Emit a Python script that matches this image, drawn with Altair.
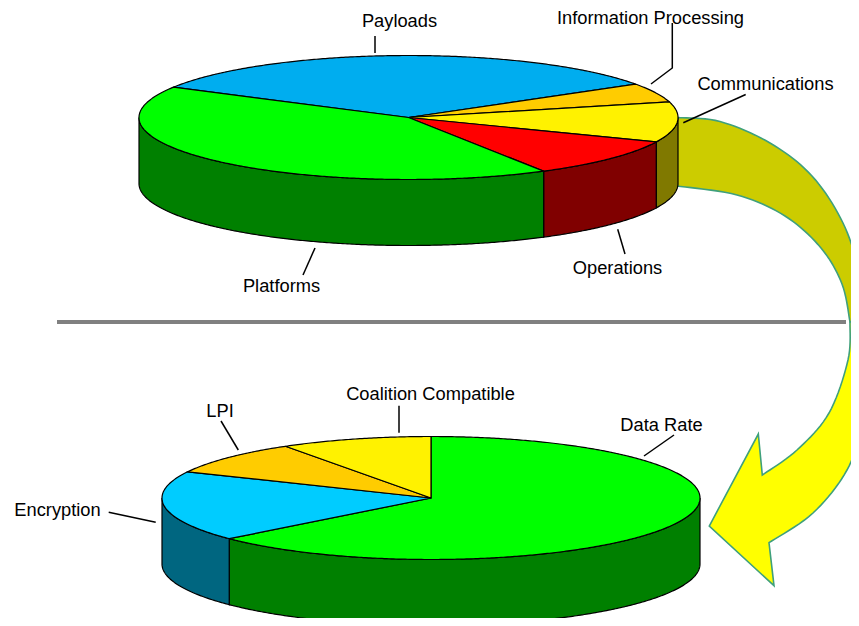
import numpy as np
import altair as alt

# ---- pie values (percent of each disc) ----
top_names = ["Payloads", "Information Processing", "Communications", "Operations", "Platforms"]
top_values = [32.8, 5.0, 10.5, 10.2, 41.5]
top_fill = ["#00ADEF", "#FFCC00", "#FFF200", "#FF0000", "#00FF00"]
top_side = ["#005678", "#806600", "#807900", "#800000", "#008000"]

bot_names = ["Data Rate", "Encryption", "LPI", "Coalition Compatible"]
bot_values = [63.5, 18.5, 8.9, 9.1]
bot_fill = ["#00FF00", "#00CCFF", "#FFCC00", "#FFF200"]
bot_side = ["#008000", "#006680", "#806600", "#807900"]

# ---- labels ----
label_text = ["Payloads", "Information Processing", "Communications", "Operations", "Platforms",
              "LPI", "Coalition Compatible", "Encryption", "Data Rate"]
label_x = [399.5, 650.5, 765.5, 617.5, 281.5, 220, 430.5, 57.5, 661.5]
label_y = [22, 18.5, 85, 269, 287, 412, 395, 511, 426]

leaders = [
    [(375, 36), (375, 53)],
    [(315, 248), (303, 275)],
    [(672.3, 23), (672.3, 68), (651, 84)],
    [(745.7, 94.5), (683.3, 122.7)],
    [(617.7, 229.3), (625, 254)],
    [(108.7, 512.3), (155.7, 522.3)],
    [(221, 421), (238.3, 450)],
    [(399, 405.7), (399, 432.7)],
    [(674, 435), (644, 456)],
]

# ---- swoosh outline ----
olive_outer = [(677, 117.5), (720, 121.5), (770, 143), (812, 176), (843, 223), (860, 275), (866, 322)]
olive_inner = [(850, 322), (842, 284), (821, 248), (785, 216), (737, 195), (677, 186)]
yellow_inner = [(850, 322), (848, 360), (829, 413), (797, 450), (762.3, 475)]
arrow_head = [(758.3, 434), (709.3, 526), (774, 585.7), (769, 542.7)]
yellow_outer = [(769, 542.7), (813, 513), (847, 470), (864, 420), (869, 370), (866, 322)]


def smooth(pts, n=10):
    p = np.array([pts[0]] + list(pts) + [pts[-1]], dtype=float)
    out = []
    for i in range(1, len(p) - 2):
        for u in np.linspace(0, 1, n, endpoint=False):
            out.append(0.5 * ((2 * p[i]) + (p[i + 1] - p[i - 1]) * u
                              + (2 * p[i - 1] - 5 * p[i] + 4 * p[i + 1] - p[i + 2]) * u ** 2
                              + (3 * p[i] - p[i - 1] - 3 * p[i + 1] + p[i + 2]) * u ** 3))
    out.append(p[-2])
    return [tuple(q) for q in out]


def feature(pts, fill, stroke, sw):
    ring = [[float(a) - 8, float(b) - 8] for a, b in pts]
    ring.append(ring[0])
    return {"type": "Feature", "geometry": {"type": "Polygon", "coordinates": [ring]},
            "properties": {"fill": fill, "stroke": stroke, "sw": sw}}


def disc(cx, cy, rx, ry, depth, start, values, fills, sides):
    pt = lambda t, d=0: (cx + rx * np.cos(np.radians(t)), cy + ry * np.sin(np.radians(t)) + d)
    arc = lambda a, b: np.linspace(a, b, max(2, int(abs(b - a) * 2)))
    wall, face = [], []
    t0 = start
    total = sum(values)
    for v, f, s in zip(values, fills, sides):
        t1 = t0 + 360 * v / total
        face.append(feature([(cx, cy)] + [pt(t) for t in arc(t0, t1)], f, "#000000", 1.2))
        lo, hi = max(t0, 0), min(t1, 180)
        if hi > lo:
            wall.append(feature([pt(t) for t in arc(lo, hi)] + [pt(t, depth) for t in arc(hi, lo)],
                                s, "#000000", 1.2))
        t0 = t1
    return wall + face


teal = "#3FA07C"
features = [
    feature(smooth(olive_outer) + smooth(olive_inner), "#CCCC00", teal, 1.6),
    feature(smooth(yellow_inner) + arrow_head + smooth(yellow_outer), "#FFFF00", teal, 1.6),
]
features += disc(408.5, 117.5, 269.5, 62, 66, -150.7, top_values, top_fill, top_side)
features += disc(431, 498, 269, 61.5, 66, -90, bot_values, bot_fill, bot_side)

shapes = alt.Chart(alt.InlineData(values=features)).mark_geoshape().encode(
    fill=alt.Fill("properties.fill:N", scale=None),
    stroke=alt.Stroke("properties.stroke:N", scale=None),
    strokeWidth=alt.StrokeWidth("properties.sw:Q", scale=None),
).project(type="identity", scale=1, translate=[0, 0])

X = lambda f: alt.X(f, scale=None, axis=None)
Y = lambda f: alt.Y(f, scale=None, axis=None)

divider = alt.Chart(alt.InlineData(values=[{"x": 49, "x2": 838, "y": 314}])).mark_rule(
    color="#808080", strokeWidth=4
).encode(x=X("x:Q"), x2="x2:Q", y=Y("y:Q"))

leader_rows = [{"k": i, "o": j, "x": a - 8, "y": b - 8}
               for i, seg in enumerate(leaders) for j, (a, b) in enumerate(seg)]
leader_lines = alt.Chart(alt.InlineData(values=leader_rows)).mark_line(
    color="#000000", strokeWidth=1.5
).encode(x=X("x:Q"), y=Y("y:Q"), detail="k:N", order="o:Q")

label_rows = [{"t": t, "x": a - 8, "y": b - 8} for t, a, b in zip(label_text, label_x, label_y)]
labels = alt.Chart(alt.InlineData(values=label_rows)).mark_text(
    font="Liberation Sans", fontSize=18.3, color="#000000", align="center", baseline="middle"
).encode(x=X("x:Q"), y=Y("y:Q"), text="t:N")

chart = alt.layer(shapes, divider, leader_lines, labels).properties(
    width=843, height=610, padding=0,
    autosize=alt.AutoSizeParams(type="none"),
    background="#FFFFFF",
).configure_view(stroke=None)

chart.save("out.html", embed_options={"renderer": "svg", "actions": False})
